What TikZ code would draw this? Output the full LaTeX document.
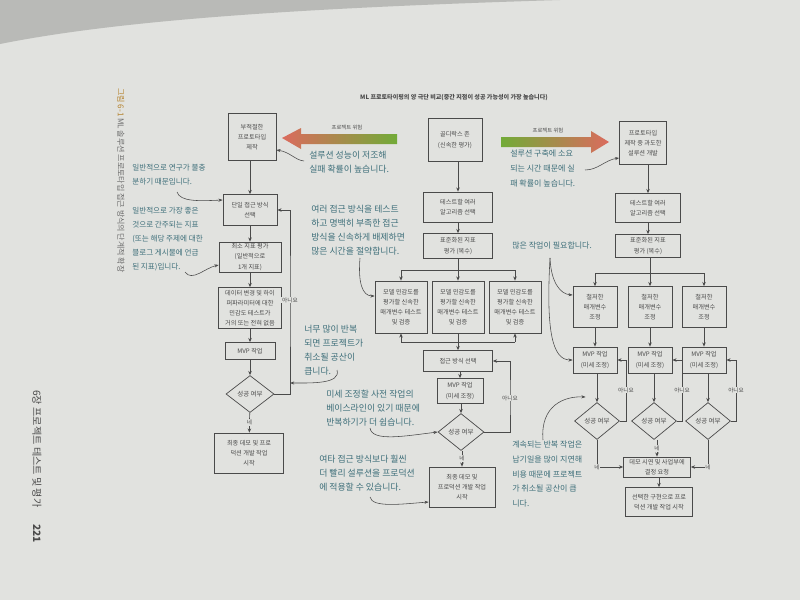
\documentclass[tikz,border=0pt]{standalone}
\usepackage{fontspec}
\setmainfont{Noto Sans CJK KR}
\usetikzlibrary{arrows.meta,shapes.geometric}
\definecolor{paper}{HTML}{E1E2DF}
\definecolor{shadow}{HTML}{B9BAB7}
\definecolor{ink}{HTML}{4A4A4A}
\definecolor{notecol}{HTML}{3E6F7A}
\definecolor{riskred}{HTML}{DB6B5E}
\definecolor{riskgreen}{HTML}{72AB38}
\definecolor{capt}{HTML}{B5832F}
\begin{document}
\begin{tikzpicture}[x=0.025cm,y=-0.025cm,
 box/.style={draw=ink, line width=0.5pt, align=center, text=ink, font=\fontsize{4.4}{7.2}\selectfont, inner sep=1pt},
 wh/.style 2 args={minimum width=#1*0.025cm, minimum height=#2*0.025cm},
 dia/.style={diamond, draw=ink, line width=0.5pt, text=ink, font=\fontsize{4.6}{6}\selectfont, inner sep=0pt},
 flow/.style={draw=ink, line width=0.5pt, -{Stealth[length=3pt,width=2.5pt]}},
 plain/.style={draw=ink, line width=0.5pt},
 lbl/.style={fill=paper, inner sep=0.6pt, text=ink, font=\fontsize{4}{5}\selectfont},
 anno/.style={align=left, text=notecol, font=\fontsize{6.3}{10}\selectfont, inner sep=0pt, anchor=north west},
 annoL/.style={anno, font=\fontsize{5.4}{10}\selectfont},
 annoR/.style={anno, font=\fontsize{5.7}{10.4}\selectfont},
 pointer/.style={draw=ink, line width=0.4pt, -{Stealth[length=3pt,width=2.2pt]}},
 risk/.style={text=ink, font=\fontsize{3.8}{4.5}\selectfont, inner sep=0pt},
]
\useasboundingbox (0,0) rectangle (800,600);
\fill[paper] (0,0) rectangle (800,600);
\fill[shadow] (0,0) -- (560,0) .. controls (300,8) and (120,20) .. (0,44) -- cycle;

% caption and footer
\node[rotate=-90, anchor=west, inner sep=0pt, font=\fontsize{5.7}{7}\selectfont, text=ink!80] (cap) at (121,88) {\textcolor{capt}{그림 6-1} ML 솔루션 프로토타입 접근 방식의 단계적 확장};
\node[rotate=-90, anchor=west, inner sep=0pt, font=\fontsize{7.2}{9}\selectfont, text=ink] (foot) at (37,390) {6장 프로젝트 테스트 및 평가\hspace{12pt}\textbf{221}};

% title
\node[inner sep=0pt, text=ink, font=\fontsize{4.3}{5}\selectfont\bfseries] (title) at (454,98) {ML 프로토타이핑의 양 극단 비교(중간 지점이 성공 가능성이 가장 높습니다)};

% risk arrows
\shade[left color=riskred, right color=riskgreen] (282,138) -- (301,128) -- (301,134) -- (397,134) -- (397,144) -- (301,144) -- (301,149) -- cycle;
\node[risk] (riskL) at (347,127) {프로젝트 위험};
\shade[left color=riskgreen, right color=riskred] (501,137) -- (591,137) -- (591,131) -- (609,142) -- (591,153) -- (591,147) -- (501,147) -- cycle;
\node[risk] (riskR) at (548,130) {프로젝트 위험};

% ---------------- left column
\node[box, wh={48}{47}] (A1) at (252,137) {부적절한\\프로토타입\\제작};
\node[box, wh={54}{31}] (A2) at (250,210) {단일 접근 방식\\선택};
\node[box, wh={62}{30}] (A3) at (250,257) {최소 지표 평가\\(일반적으로\\1개 지표)};
\node[box, wh={63}{41}] (A4) at (250,308) {데이터 변경 및 하이\\퍼파라미터에 대한\\민감도 테스트가\\거의 또는 전혀 없음};
\node[box, wh={50}{17}] (A5) at (250,351) {MVP 작업};
\node[dia, minimum width=48*0.025cm, minimum height=37*0.025cm] (A6) at (250,394) {성공 여부};
\node[box, wh={69}{40}] (A7) at (249,453) {최종 데모 및 프로\\덕션 개발 작업\\시작};

\draw[flow] (A1.south -| A2.north) -- (A2.north);
\draw[flow] (A2) -- (A3);
\draw[flow] (A3) -- (A4);
\draw[flow] (A4) -- (A5);
\draw[flow] (A5) -- (A6);
\draw[flow] (A6) -- (A7) node[lbl, midway] {네};
\coordinate (la) at (290,300);
\draw[flow] (A6.east) -| (la) |- (A2.east);
\node[lbl] at (la) {아니요};

% ---------------- middle column
\node[box, wh={54}{43}] (B1) at (455,140) {골디락스 존\\(신속한 평가)};
\node[box, wh={69}{30}] (B2) at (458,207) {테스트할 여러\\알고리즘 선택};
\node[box, wh={69}{25}] (B3) at (458,246) {표준화된 지표\\평가 (복수)};
\node[box, wh={52}{52}] (C1) at (401,307) {모델 민감도를\\평가할 신속한\\매개변수 테스트\\및 검증};
\node[box, wh={52}{52}] (C2) at (458,307) {모델 민감도를\\평가할 신속한\\매개변수 테스트\\및 검증};
\node[box, wh={52}{52}] (C3) at (515,307) {모델 민감도를\\평가할 신속한\\매개변수 테스트\\및 검증};
\node[box, wh={69}{21}] (B4) at (458,361) {접근 방식 선택};
\node[box, wh={46}{25}] (B5) at (460,391) {MVP 작업\\(미세 조정)};
\node[dia, minimum width=46*0.025cm, minimum height=37*0.025cm] (B6) at (461,432) {성공 여부};
\node[box, wh={66}{40}] (B7) at (462,487) {최종 데모 및\\프로덕션 개발 작업\\시작};

\draw[flow] (B1.south -| B2.north) -- (B2.north);
\draw[flow] (B2) -- (B3);
\coordinate (s1) at (458,270);
\draw[plain] (B3.south) -- (s1);
\draw[plain] (C1.north |- s1) -- (C3.north |- s1);
\draw[flow] (C1.north |- s1) -- (C1.north);
\draw[flow] (s1) -- (C2.north);
\draw[flow] (C3.north |- s1) -- (C3.north);
\coordinate (m1) at (458,342);
\draw[plain] (C1.south |- m1) -- (C3.south |- m1);
\draw[flow] (C1.south |- m1) -- (C1.south);
\draw[flow] (C3.south |- m1) -- (C3.south);
\draw[plain] (C2.south) -- (m1);
\draw[flow] (m1) -- (B4.north);
\draw[flow] (B4.south -| B5.north) -- (B5.north);
\draw[flow] (B5.south -| B6.north) -- (B6.north);
\draw[flow] (B6.south -| B7.north) -- (B7.north) node[lbl, midway] {네};
\coordinate (lb) at (510,398);
\draw[flow] (B6.east) -| (lb) |- (B4.east);
\node[lbl] at (lb) {아니요};

% ---------------- right column
\node[box, wh={47}{43}] (D1) at (643,143) {프로토타입\\제작 중 과도한\\설루션 개발};
\node[box, wh={65}{29}] (D2) at (648,208) {테스트할 여러\\알고리즘 선택};
\node[box, wh={65}{23}] (D3) at (648,246) {표준화된 지표\\평가 (복수)};
\node[box, wh={44}{41}] (E1) at (595,307) {철저한\\매개변수\\조정};
\node[box, wh={44}{41}] (E2) at (650,307) {철저한\\매개변수\\조정};
\node[box, wh={44}{41}] (E3) at (704,307) {철저한\\매개변수\\조정};
\node[box, wh={44}{26}] (F1) at (595,360) {MVP 작업\\(미세 조정)};
\node[box, wh={44}{26}] (F2) at (650,360) {MVP 작업\\(미세 조정)};
\node[box, wh={44}{26}] (F3) at (704,360) {MVP 작업\\(미세 조정)};
\node[dia, minimum width=45*0.025cm, minimum height=37*0.025cm] (G1) at (597,421) {성공 여부};
\node[dia, minimum width=45*0.025cm, minimum height=37*0.025cm] (G2) at (654,421) {성공 여부};
\node[dia, minimum width=45*0.025cm, minimum height=37*0.025cm] (G3) at (708,421) {성공 여부};
\node[box, wh={67}{20}] (H1) at (657,467) {데모 시연 및 사업부에\\결정 요청};
\node[box, wh={67}{29}] (H2) at (659,502) {선택한 구현으로 프로\\덕션 개발 작업 시작};

\draw[flow] (D1.south -| D2.north) -- (D2.north);
\draw[flow] (D2) -- (D3);
\coordinate (s2) at (650,273);
\draw[plain] (D3.south -| s2) -- (s2);
\draw[plain] (E1.north |- s2) -- (E3.north |- s2);
\draw[flow] (E1.north |- s2) -- (E1.north);
\draw[flow] (s2) -- (E2.north);
\draw[flow] (E3.north |- s2) -- (E3.north);
\draw[flow] (E1) -- (F1);
\draw[flow] (E2) -- (F2);
\draw[flow] (E3) -- (F3);
\draw[flow] (F1.south -| G1.north) -- (G1.north);
\draw[flow] (F2.south -| G2.north) -- (G2.north);
\draw[flow] (F3.south -| G3.north) -- (G3.north);
\coordinate (lg1) at (626,390);
\coordinate (lg2) at (682,390);
\coordinate (lg3) at (736,390);
\draw[flow] (G1.east) -| (lg1) |- (F1.east);
\draw[flow] (G2.east) -| (lg2) |- (F2.east);
\draw[flow] (G3.east) -| (lg3) |- (F3.east);
\node[lbl] at (lg1) {아니요};
\node[lbl] at (lg2) {아니요};
\node[lbl] at (lg3) {아니요};
\draw[flow] (G1.south) |- node[lbl, pos=0.5] {네} (H1.west);
\draw[flow] (G3.south) |- node[lbl, pos=0.5] {네} (H1.east);
\draw[flow] (G2.south -| H1.north) -- (H1.north) node[lbl, midway] {네};
\draw[flow] (H1.south -| H2.north) -- (H2.north);

% ---------------- annotations
\node[anno] (T1) at (309,151) {설루션 성능이 저조해\\실패 확률이 높습니다.};
\node[annoL] (T2) at (132,164) {일반적으로 연구가 불충\\분하기 때문입니다.};
\node[annoL] (T3) at (132,207) {일반적으로 가장 좋은\\것으로 간주되는 지표\\(또는 해당 주제에 대한\\블로그 게시물에 언급\\된 지표)입니다.};
\node[anno] (T4) at (304,325) {너무 많이 반복\\되면 프로젝트가\\취소될 공산이\\큽니다.};
\node[anno] (T5) at (311,205) {여러 접근 방식을 테스트\\하고 명백히 부족한 접근\\방식을 신속하게 배제하면\\많은 시간을 절약합니다.};
\node[anno] (T6) at (326,390) {미세 조정할 사전 작업의\\베이스라인이 있기 때문에\\반복하기가 더 쉽습니다.};
\node[anno] (T7) at (319,455) {여타 접근 방식보다 훨씬\\더 빨리 설루션을 프로덕션\\에 적용할 수 있습니다.};
\node[annoR] (T8) at (510,150) {설루션 구축에 소요\\되는 시간 때문에 실\\패 확률이 높습니다.};
\node[annoR] (T9) at (512,242) {많은 작업이 필요합니다.};
\node[annoR] (T10) at (512,441) {계속되는 반복 작업은\\납기일을 많이 지연해\\비용 때문에 프로젝트\\가 취소될 공산이 큽\\니다.};

\coordinate (p1) at (304,161);
\draw[pointer] (p1) .. controls (295,160) and (290,152) .. (A1.east |- 0,150);
\coordinate (p2) at (177,192);
\draw[pointer] (p2) .. controls (180,202) and (200,201) .. (A2.west |- 0,200);
\coordinate (p3) at (185,272);
\draw[pointer] (p3) .. controls (192,282) and (205,268) .. (A3.west |- 0,265);
\coordinate (p4) at (337,370);
\draw[pointer] (p4) .. controls (341,384) and (312,383) .. (la |- 0,383);
\coordinate (p5) at (360,258);
\draw[pointer] (p5) .. controls (358,282) and (362,296) .. (C1.west |- 0,296);
\coordinate (p6) at (370,428);
\draw[pointer] (p6) .. controls (372,442) and (405,436) .. (B6.west);
\coordinate (p7) at (370,497);
\draw[pointer] (p7) .. controls (372,508) and (402,504) .. (B7.west |- 0,502);
\coordinate (p8) at (585,170);
\draw[pointer] (p8) .. controls (598,170) and (605,160) .. (D1.west |- 0,158);
\coordinate (p9) at (550,258);
\draw[pointer] (p9) .. controls (551,282) and (560,294) .. (E1.west |- 0,295);
\draw[pointer] (p9) .. controls (546,330) and (552,360) .. (F1.west |- 0,360);
\coordinate (p10) at (543,440);
\draw[pointer] (p10) .. controls (540,405) and (565,396) .. (G1.north west |- 0,397);
\end{tikzpicture}
\end{document}
